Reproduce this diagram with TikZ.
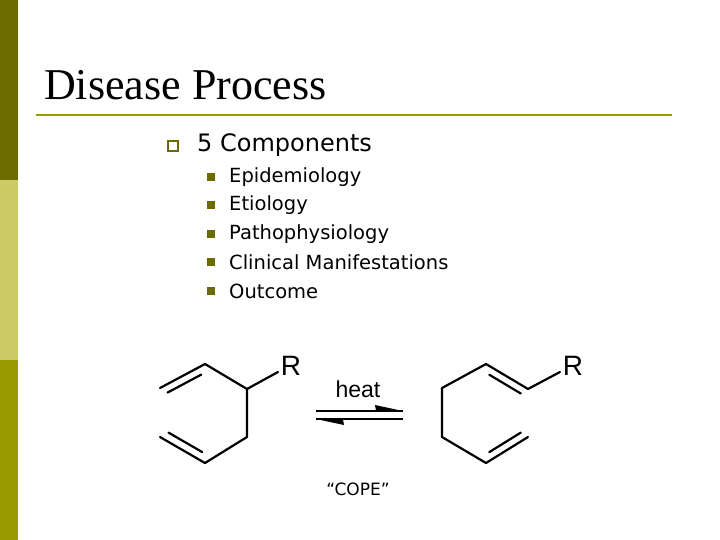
\documentclass[tikz,border=0pt]{standalone}
\usetikzlibrary{calc}
\usepackage{fontspec}
\setmainfont{Liberation Serif}
\newfontfamily\verd{DejaVu Sans}
\newfontfamily\arial{Liberation Sans}
\definecolor{olive1}{HTML}{6B6B00}
\definecolor{olive2}{HTML}{CCCC66}
\definecolor{olive3}{HTML}{999900}
\begin{document}
\begin{tikzpicture}[x=1pt,y=-1pt,
  bond/.style={line width=2.2pt,line cap=round,line join=round},
  sub/.style={anchor=west,font=\verd\fontsize{19.5}{22}\selectfont,inner sep=0},
  sq/.style={fill=olive1,minimum size=7.5pt,inner sep=0}]
\useasboundingbox (0,0) rectangle (720,540);
\fill[white] (0,0) rectangle (720,540);
\fill[olive1] (0,0) rectangle (18,180);
\fill[olive2] (0,180) rectangle (18,360);
\fill[olive3] (0,360) rectangle (18,540);
\node[anchor=base west,inner sep=0,font=\fontsize{44}{48}\selectfont] (title) at (44,100) {Disease Process};
\draw[olive3,line width=2.5pt] (36,115) -- (672,115);
\node[draw=olive1,line width=1.3pt,minimum size=10pt,inner sep=0] (b0) at (173,146) {};
\node[anchor=west,inner sep=0,font=\verd\fontsize{24}{27}\selectfont] (comp) at (197,145) {5 Components};
\foreach \t/\y [count=\i] in {Epidemiology/177,Etiology/205,Pathophysiology/234,Clinical Manifestations/262,Outcome/291}{
  \node[sq] (s\i) at (211,\y) {};
  \node[sub] (t\i) at (229,\y) {\t};
}
% left molecule
\coordinate (a1) at (160,388); \coordinate (a2) at (205,364); \coordinate (a3) at (247,389);
\coordinate (a4) at (247,437); \coordinate (a5) at (205,463); \coordinate (a6) at (160,437);
\coordinate (aR) at (278,372);
\draw[bond] (a1)--(a2)--(a3)--(a4)--(a5)--(a6);
\draw[bond] (a3)--(aR);
\draw[bond] ($(a1)!0.1!(a2)+(3,7)$) -- ($(a1)!0.85!(a2)+(3,7)$);
\draw[bond] ($(a6)!0.1!(a5)+(4,-7)$) -- ($(a6)!0.85!(a5)+(4,-7)$);
\node[font=\arial\fontsize{28}{30}\selectfont,inner sep=0] (R1) at (291,366) {R};
% arrows
\coordinate (p1) at (316,411); \coordinate (p2) at (403,411);
\coordinate (q1) at (316,419); \coordinate (q2) at (403,419);
\draw[bond,line cap=butt] (p1)--(p2);
\fill (p2) -- (375,405) -- (376,410.5) -- cycle;
\draw[bond,line cap=butt] (q1)--(q2);
\fill (q1) -- (344,425) -- (343,419.5) -- cycle;
\node[font=\arial\fontsize{23}{26}\selectfont,inner sep=0] (heat) at (358,389) {heat};
% right molecule
\coordinate (b1) at (442,388); \coordinate (b2) at (486,364); \coordinate (b3) at (528,389);
\coordinate (b4) at (442,437); \coordinate (b5) at (486,463); \coordinate (b6) at (528,437);
\coordinate (bR) at (560,372);
\draw[bond] (b3)--(b2)--(b1)--(b4)--(b5)--(b6);
\draw[bond] (b3)--(bR);
\draw[bond] ($(b2)!0.15!(b3)+(-3,7)$) -- ($(b2)!0.9!(b3)+(-3,7)$);
\draw[bond] ($(b5)!0.15!(b6)+(-3,-7)$) -- ($(b5)!0.9!(b6)+(-3,-7)$);
\node[font=\arial\fontsize{28}{30}\selectfont,inner sep=0] (R2) at (573,366) {R};
\node[font=\verd\fontsize{17}{19}\selectfont,inner sep=0] (cope) at (358,489) {“COPE”};
\end{tikzpicture}
\end{document}
